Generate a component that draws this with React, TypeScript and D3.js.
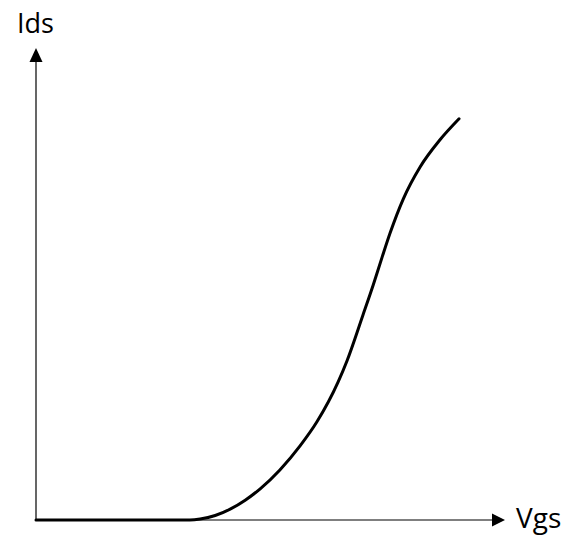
import React from "react";
import * as d3 from "d3";

const vgs = [0, 32.8, 35.0, 38.2, 41.4, 44.6, 47.8, 52.0, 56.3, 59.9, 64.4, 66.3, 69.7, 71.9, 73.8, 75.5, 78.3, 81.9, 86.1, 90.2];
const ids = [0, 0, 0.2, 0.95, 2.3, 4.2, 6.6, 10.6, 15.7, 20.8, 29.2, 33.7, 43.4, 49.8, 55.7, 60.8, 68.0, 74.8, 80.5, 85.0];
const xLabel = "Vgs";
const yLabel = "Ids";

export default function App() {
  const W = 581, H = 550;
  const x = d3.scaleLinear().domain([0, 100]).range([36, 505]);
  const y = d3.scaleLinear().domain([0, 100]).range([520, 48]);
  const pts: [number, number][] = vgs.map((v, i) => [v, ids[i]]);
  const line = d3.line<[number, number]>()
    .x(d => x(d[0]))
    .y(d => y(d[1]))
    .curve(d3.curveMonotoneX);
  const x0 = x(0), y0 = y(0), xEnd = x(100), yEnd = y(100);
  return (
    <svg width={W} height={H} style={{ position: "absolute", left: 0, top: 0, background: "#fff" }}>
      <line x1={x0} y1={y0} x2={xEnd - 12} y2={y0} stroke="#000" strokeWidth={1.2} />
      <line x1={x0} y1={y0} x2={x0} y2={yEnd + 12} stroke="#000" strokeWidth={1.2} />
      <path d={`M${xEnd},${y0} L${xEnd - 13},${y0 - 6.5} L${xEnd - 13},${y0 + 6.5} Z`} fill="#000" />
      <path d={`M${x0},${yEnd} L${x0 - 6.5},${yEnd + 14} L${x0 + 6.5},${yEnd + 14} Z`} fill="#000" />
      <path d={line(pts) || ""} fill="none" stroke="#000" strokeWidth={3} strokeLinecap="round" />
      <text x={17} y={33} fontFamily="Open Sans" fontSize={27} fill="#000">{yLabel}</text>
      <text x={516} y={528} fontFamily="Open Sans" fontSize={28} fill="#000">{xLabel}</text>
    </svg>
  );
}
